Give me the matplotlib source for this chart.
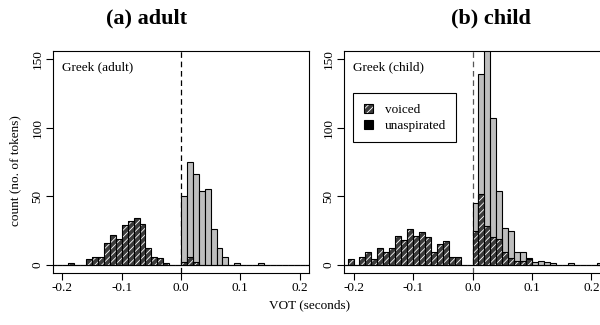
import numpy as np
import matplotlib.pyplot as plt
from matplotlib.patches import Patch
from matplotlib.legend_handler import HandlerTuple

plt.rcParams['font.family'] = ['Liberation Serif', 'DejaVu Serif']
plt.rcParams['hatch.linewidth'] = 0.6

# histogram bins: left edges from -0.22 to 0.21, width 0.01 s
bin_left = np.round(np.arange(-22, 22) / 100, 2)
bin_width = 0.01

# counts per bin (44 bins)
adult_voiced = [0, 0, 0, 1, 0, 0, 4, 6, 6, 16, 22, 19, 29, 32, 34, 30, 12, 6, 5, 1, 0, 0,
                2, 6, 2, 0, 0, 0, 0, 0, 0, 0, 0, 0, 0, 0, 0, 0, 0, 0, 0, 0, 0, 0]
adult_unasp = [0, 0, 0, 0, 0, 0, 0, 0, 0, 0, 0, 0, 0, 0, 0, 0, 0, 0, 0, 0, 0, 0,
               50, 75, 66, 54, 55, 26, 12, 6, 0, 1, 0, 0, 0, 1, 0, 0, 0, 0, 0, 0, 0, 0]
child_voiced = [0, 4, 0, 6, 9, 4, 12, 9, 12, 21, 18, 26, 21, 24, 20, 9, 15, 17, 6, 6, 0, 0,
                25, 52, 28, 20, 19, 9, 5, 3, 3, 4, 0, 0, 0, 0, 0, 0, 0, 0, 0, 0, 0, 0]
child_unasp = [0, 0, 0, 0, 0, 0, 0, 0, 0, 0, 0, 0, 0, 0, 0, 0, 0, 0, 0, 0, 0, 0,
               45, 139, 165, 107, 54, 27, 25, 9, 9, 5, 2, 3, 2, 1, 0, 0, 1, 0, 0, 0, 0, 1]

titles = ['(a) adult', '(b) child']
inner_labels = ['Greek (adult)', 'Greek (child)']
xticks = [-0.2, -0.1, 0.0, 0.1, 0.2]
xticklabels = ['-0.2', '-0.1', '0.0', '0.1', '0.2']
yticks = [0, 50, 100, 150]

grey = '#bebebe'
dark = '#3a3a3a'

fig = plt.figure(figsize=(6, 3.25), dpi=100)
ax_a = fig.add_axes([53/600, 1-273/325, 256/600, 222/325])
ax_b = fig.add_axes([344/600, 1-273/325, 257/600, 222/325])


def draw(ax, voiced, unasp, label, dash_col):
    ax.axvline(0, color=dash_col, lw=0.9, linestyle=(0, (4.5, 3)), zorder=1)
    ax.bar(bin_left, unasp, width=bin_width, align='edge', color=grey,
           edgecolor='black', linewidth=0.8, zorder=2)
    ax.bar(bin_left, voiced, width=bin_width, align='edge', color=dark,
           edgecolor='white', hatch='/////', linewidth=0, zorder=3)
    ax.bar(bin_left, voiced, width=bin_width, align='edge', fill=False,
           edgecolor='black', linewidth=0.8, zorder=4)
    ax.set_xlim(-0.216, 0.216)
    ax.set_ylim(-6, 156)
    ax.set_xticks(xticks)
    ax.set_xticklabels(xticklabels, fontsize=9.5)
    ax.set_yticks(yticks)
    ax.set_yticklabels([str(v) for v in yticks], fontsize=9.5,
                       rotation=90, va='center')
    ax.tick_params(direction='out', length=5.2, width=0.8, pad=1.5)
    for s in ax.spines.values():
        s.set_linewidth(0.8)
    ax.text(0.035, 0.928, label, transform=ax.transAxes, fontsize=9.5,
            va='center', ha='left')


draw(ax_a, adult_voiced, adult_unasp, inner_labels[0], 'black')
draw(ax_b, child_voiced, child_unasp, inner_labels[1], '#555555')

# legend in child panel
h_voiced = (Patch(facecolor=dark, edgecolor='white', hatch='/////', linewidth=0),
            Patch(fill=False, edgecolor='black', linewidth=0.8))
h_unasp = Patch(facecolor='black', edgecolor='black', linewidth=0.8)
leg = ax_b.legend([h_voiced, h_unasp], ['voiced', 'unaspirated'],
                  handler_map={tuple: HandlerTuple(ndivide=1)},
                  loc='upper left', bbox_to_anchor=(0.035, 0.811),
                  borderaxespad=0, fontsize=9.5, fancybox=False,
                  edgecolor='black', framealpha=1, handlelength=0.7,
                  handleheight=0.7, handletextpad=0.9, borderpad=0.8,
                  labelspacing=0.3)
leg.get_frame().set_linewidth(0.8)

fig.text(147/600, 1-18/325, titles[0], fontsize=16, fontweight='bold',
         ha='center', va='center')
fig.text(491/600, 1-18/325, titles[1], fontsize=16, fontweight='bold',
         ha='center', va='center')
fig.text(310/600, 1-305/325, 'VOT (seconds)', fontsize=9.5,
         ha='center', va='center')
fig.text(15/600, 1-171/325, 'count (no. of tokens)', fontsize=9.5,
         ha='center', va='center', rotation=90)

plt.savefig('out.png', dpi=100)
